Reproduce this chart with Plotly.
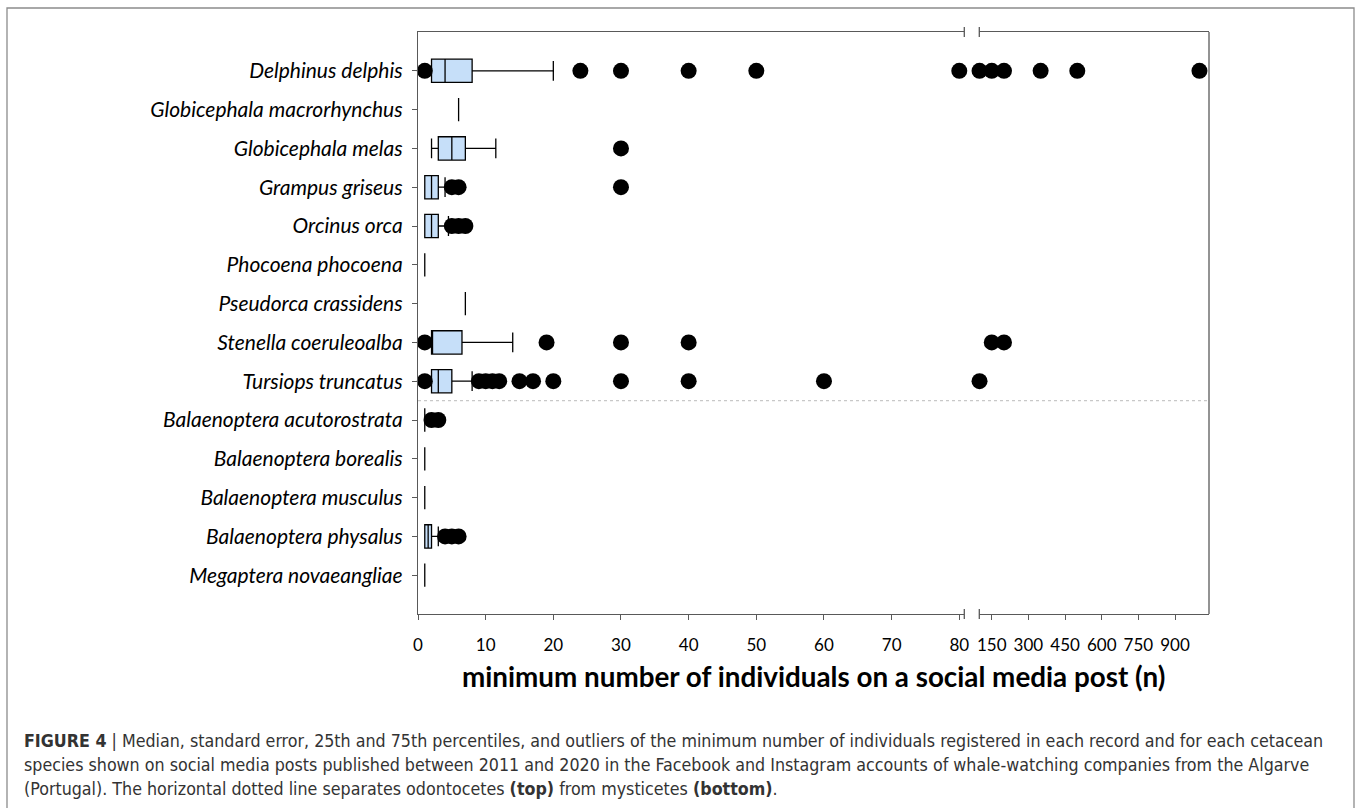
import plotly.graph_objects as go

# ---------------- data ----------------
species = [
    "Delphinus delphis", "Globicephala macrorhynchus", "Globicephala melas",
    "Grampus griseus", "Orcinus orca", "Phocoena phocoena", "Pseudorca crassidens",
    "Stenella coeruleoalba", "Tursiops truncatus", "Balaenoptera acutorostrata",
    "Balaenoptera borealis", "Balaenoptera musculus", "Balaenoptera physalus",
    "Megaptera novaeangliae",
]
n_odontocetes = 9
lower_fence = [2, 6, 2, 1, 1, 1, 7, 2, 2, 1, 1, 1, 1, 1]
q1 = [2, 6, 3, 1, 1, 1, 7, 2, 2, 1, 1, 1, 1, 1]
median = [4, 6, 5, 2, 2, 1, 7, 2, 3, 1, 1, 1, 1.5, 1]
q3 = [8, 6, 7, 3, 3, 1, 7, 6.5, 5, 1, 1, 1, 2, 1]
upper_fence = [20, 6, 11.5, 4, 4.5, 1, 7, 14, 8, 1, 1, 1, 3, 1]
outliers = [
    [1, 24, 30, 40, 50, 80, 100, 150, 200, 350, 500, 1000],
    [],
    [30],
    [5, 6, 30],
    [5, 6, 7],
    [],
    [],
    [1, 19, 30, 40, 150, 200],
    [1, 9, 10, 11, 12, 15, 17, 20, 30, 40, 60, 100],
    [2, 3],
    [],
    [],
    [4, 5, 6],
    [],
]
left_ticks = [0, 10, 20, 30, 40, 50, 60, 70, 80]
right_ticks = [150, 300, 450, 600, 750, 900]
x_title = "minimum number of individuals on a social media post (n)"
caption_lines = [
    "<b>FIGURE 4</b> | Median, standard error, 25th and 75th percentiles, and outliers of the minimum number of individuals registered in each record and for each cetacean",
    "species shown on social media posts published between 2011 and 2020 in the Facebook and Instagram accounts of whale-watching companies from the Algarve",
    "(Portugal). The horizontal dotted line separates odontocetes <b>(top)</b> from mysticetes <b>(bottom)</b>.",
]

# ---------------- layout geometry ----------------
W, H = 1357, 808
L, R, T, B = 418, 1209, 32, 614
LEFT_MAX = 80.74
RIGHT_RANGE = [99, 1039]
split_end = (964.3 - L) / (R - L)
split_start = (979.3 - L) / (R - L)


def px(xp):
    return (xp - L) / (R - L)


def py(yp):
    return (B - yp) / (B - T)


AX = "#595959"
BOX_FILL = "#c6dff9"
FONT = "Lato, Carlito, Open Sans, sans-serif"

fig = go.Figure()

fig.add_trace(go.Box(
    y=species, q1=q1, median=median, q3=q3,
    lowerfence=lower_fence, upperfence=upper_fence,
    orientation="h", boxpoints=False, width=0.6, whiskerwidth=0.85,
    fillcolor=BOX_FILL, line=dict(color="black", width=1.3),
    xaxis="x", yaxis="y", showlegend=False, hoverinfo="skip",
))

lx, ly, rx, ry = [], [], [], []
for sp, vals in zip(species, outliers):
    for v in vals:
        if v <= LEFT_MAX:
            lx.append(v); ly.append(sp)
        else:
            rx.append(v); ry.append(sp)

marker = dict(size=16, color="black")
fig.add_trace(go.Scatter(x=lx, y=ly, mode="markers", marker=marker, cliponaxis=False,
                         xaxis="x", yaxis="y", showlegend=False, hoverinfo="skip"))
fig.add_trace(go.Scatter(x=rx, y=ry, mode="markers", marker=marker, cliponaxis=False,
                         xaxis="x2", yaxis="y", showlegend=False, hoverinfo="skip"))

tickfont = dict(family=FONT, size=17, color="black")
common_x = dict(showline=True, linecolor=AX, linewidth=1.3, mirror=True,
                ticks="outside", ticklen=5, tickcolor=AX, tickwidth=1.2,
                showgrid=False, zeroline=False, tickfont=tickfont, anchor="y",
                ticklabelstandoff=10)

shapes = []
# separator between odontocetes and mysticetes
shapes.append(dict(type="line", xref="paper", x0=0, x1=1, yref="y",
                   y0=n_odontocetes - 0.5, y1=n_odontocetes - 0.5,
                   line=dict(color="#c8c8c8", width=1.3, dash="dot")))
# right border
shapes.append(dict(type="line", xref="x2 domain", x0=1, x1=1, yref="y domain", y0=0, y1=1,
                   line=dict(color=AX, width=1.3)))
# break marks
for xr, xv in (("x domain", 1), ("x2 domain", 0)):
    for yc in (0, 1):
        shapes.append(dict(type="line", xref=xr, x0=xv, x1=xv, yref="paper",
                           y0=yc - 5 / (B - T), y1=yc + 5 / (B - T),
                           line=dict(color=AX, width=1.3)))
# outer figure frame
shapes.append(dict(type="rect", xref="paper", yref="paper",
                   x0=px(7), x1=px(1354), y0=py(820), y1=py(8),
                   line=dict(color="#8c8c8c", width=1.3), fillcolor="rgba(0,0,0,0)"))

annotations = [dict(text="<b>" + x_title + "</b>", xref="paper", yref="paper",
                    x=0.5, y=py(676), xanchor="center", yanchor="middle", showarrow=False,
                    font=dict(family=FONT, size=27.8, color="black"))]
for i, line in enumerate(caption_lines):
    annotations.append(dict(text=line, xref="paper", yref="paper", x=px(22), y=py(741 + 24 * i),
                            xanchor="left", yanchor="middle", showarrow=False, align="left",
                            font=dict(family="Liberation Sans Narrow, DejaVu Sans Condensed, Arial Narrow, sans-serif",
                                      size=17.7, color="#333333")))

fig.update_layout(
    width=W, height=H,
    margin=dict(l=L, r=W - R, t=T, b=H - B, pad=0),
    paper_bgcolor="white", plot_bgcolor="white",
    showlegend=False,
    xaxis=dict(domain=[0, split_end], range=[0, LEFT_MAX], tickvals=left_ticks, **common_x),
    xaxis2=dict(domain=[split_start, 1], range=RIGHT_RANGE, tickvals=right_ticks, **common_x),
    yaxis=dict(type="category", categoryorder="array", categoryarray=species,
               range=[len(species), -1], showline=True, linecolor=AX, linewidth=1.3,
               ticks="outside", ticklen=5, tickcolor=AX, tickwidth=1.2, showgrid=False,
               zeroline=False, ticklabelstandoff=5,
               tickfont=dict(family=FONT, size=21, color="black", style="italic"),
               anchor="x"),
    shapes=shapes,
    annotations=annotations,
)

fig.write_html("out.html")
